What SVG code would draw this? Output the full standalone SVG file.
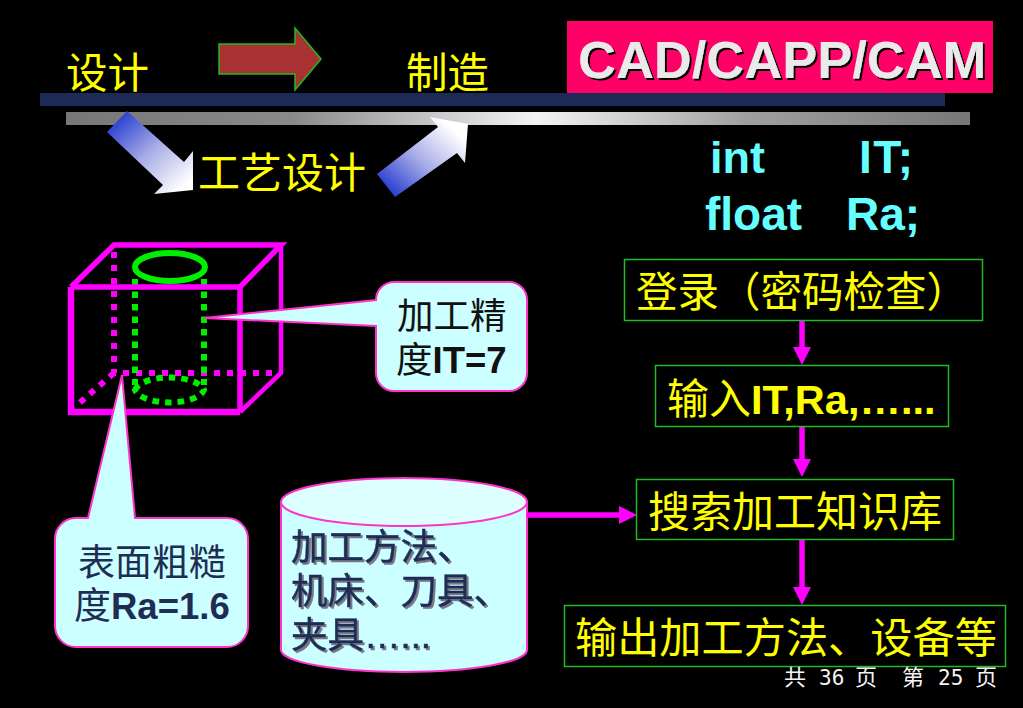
<svg xmlns="http://www.w3.org/2000/svg" width="1023" height="708" viewBox="0 0 1023 708">
<style>
text{font-family:"Liberation Sans","Noto Sans CJK SC",sans-serif}
.y{fill:#ffff00;font-size:41.5px}
.yb{fill:#ffff00;font-weight:bold}
.c{fill:#66ffff;font-size:46px;font-weight:bold}
.box{fill:#000;stroke:#22bb22;stroke-width:1.5}
.cut{fill:#ccffff;stroke:#ff33cc;stroke-width:2}
.mag{fill:none;stroke:#ff00ff;stroke-linejoin:miter}
.magd{fill:none;stroke:#ff00ff;stroke-width:6;stroke-dasharray:6 7}
.grnd{fill:none;stroke:#00ee00;stroke-width:6;stroke-dasharray:6.500 6}
.conn{stroke:#ff00ff;fill:none}
.b{font-weight:bold}
.navy{fill:#1f2d55}
</style>
<defs>
<linearGradient id="gBar" x1="0" x2="1" y1="0" y2="0"><stop offset="0" stop-color="#777"/><stop offset="0.25" stop-color="#8a8a8a"/><stop offset="0.52" stop-color="#f4f4f4"/><stop offset="0.75" stop-color="#a0a0a0"/><stop offset="1" stop-color="#777"/></linearGradient>
<linearGradient id="gA1" gradientUnits="userSpaceOnUse" x1="115" y1="120" x2="180" y2="190"><stop offset="0" stop-color="#2a3fd0"/><stop offset="0.5" stop-color="#a8aee6"/><stop offset="1" stop-color="#ffffff"/></linearGradient>
<linearGradient id="gA2" gradientUnits="userSpaceOnUse" x1="388" y1="190" x2="448" y2="125"><stop offset="0" stop-color="#2a3fd0"/><stop offset="0.5" stop-color="#a8aee6"/><stop offset="1" stop-color="#ffffff"/></linearGradient>
<marker id="head" markerUnits="userSpaceOnUse" markerWidth="18" markerHeight="18" refX="0" refY="8.500" orient="auto" viewBox="0 0 17 17"><path d="M0 0L17 8.500L0 17Z" fill="#ff00ff"/></marker>
<filter id="sh1" x="-5%" y="-10%" width="110%" height="125%"><feDropShadow dx="2" dy="2" stdDeviation="0.6" flood-color="#000"/></filter>
<filter id="sh2" x="-5%" y="-10%" width="110%" height="125%"><feDropShadow dx="2" dy="2" stdDeviation="0.7" flood-color="#778"/></filter>
</defs>
<rect width="1023" height="708" fill="#000"/>

<g id="bars">
<rect x="40" y="93" width="905" height="13" fill="#1c2b56"/>
<rect x="66" y="112" width="904" height="13" fill="url(#gBar)"/>
</g>

<g id="arrow-red"><path d="M219 44H295V28L321 59L295 90V74H219Z" fill="#a83232" stroke="#22bb22" stroke-width="1.500"/></g>
<g id="arrow-down"><path d="M127 111L107 132L163 185L154 194L193 190L193 151L184 162Z" fill="url(#gA1)"/></g>
<g id="arrow-up"><path d="M377 174L395 197L457 153L465 163L468 124L430 117L438 127Z" fill="url(#gA2)"/></g>

<g id="label-design"><text class="y" x="66" y="88">设计</text></g>
<g id="label-make"><text class="y" x="406" y="88">制造</text></g>
<g id="label-process"><text class="y" x="198" y="188" style="font-size:42px">工艺设计</text></g>

<g id="title">
<rect x="567" y="21" width="426" height="72" fill="#ff0066"/>
<text x="578" y="78" font-size="52.500" font-weight="bold" fill="#eaeaea" filter="url(#sh1)">CAD/CAPP/CAM</text>
</g>

<g id="vars">
<text class="c" x="710" y="173" style="font-size:45px">int</text><text class="c" x="859" y="173" letter-spacing="1.500">IT;</text>
<text class="c" x="705" y="230">float</text><text class="c" x="846" y="230">Ra;</text>
</g>

<g id="solid-model">
<path class="magd" d="M114 252V373H272"/>
<path class="magd" d="M114 373L76 406"/>
<path class="grnd" d="M135 279V385M204 279V385"/>
<path class="grnd" d="M135 390A35 15 0 0 1 204 390A35 15 0 0 1 135 390Z"/>
<ellipse cx="170" cy="267" rx="35" ry="14" fill="none" stroke="#00ee00" stroke-width="6"/>
<path class="mag" stroke-width="5.500" d="M71 287L114 245H281L240 287"/>
<path class="mag" stroke-width="4.500" d="M281 245V373L240 412"/>
<path class="mag" stroke-width="5.500" d="M71 287H240V412"/>
<path class="mag" stroke-width="6.500" d="M71 287V412H240"/>
</g>

<g id="callout-accuracy">
<path class="cut" d="M394 282H509A18 18 0 0 1 527 300V373A18 18 0 0 1 509 391H394A18 18 0 0 1 376 373V326L204 318L376 300A18 18 0 0 1 394 282Z"/>
<text x="397" y="329" font-size="36.500" fill="#111">加工精</text>
<text x="396" y="373" font-size="36.500" fill="#111">度<tspan class="b" font-size="36.500">IT=7</tspan></text>
</g>

<g id="callout-roughness">
<path class="cut" d="M88 518L122 375L135 518H227A21 21 0 0 1 248 539V626A21 21 0 0 1 227 647H76A21 21 0 0 1 55 626V539A21 21 0 0 1 76 518Z"/>
<text class="navy" x="78" y="576" font-size="37">表面粗糙</text>
<text class="navy" x="74" y="619" font-size="37">度<tspan class="b" font-size="36.500">Ra=1.6</tspan></text>
</g>

<g id="database">
<path d="M281 502V650A123 22 0 0 0 527 650V502Z" fill="#ccffff" stroke="#ff33cc" stroke-width="2"/>
<ellipse cx="404" cy="502" rx="123" ry="24" fill="#ddffff" stroke="#ff33cc" stroke-width="2"/>
<g class="navy" stroke="#1f2d55" stroke-width="0.500" filter="url(#sh2)">
<text x="291" y="560" font-size="36.500">加工方法、</text>
<text x="291" y="604" font-size="36.500">机床、刀具、</text>
<text x="291" y="648" font-size="36.500">夹具…...</text>
</g>
</g>

<g id="connectors">
<line class="conn" stroke-width="5.500" x1="802" y1="321" x2="802" y2="347" marker-end="url(#head)"/>
<line class="conn" stroke-width="5.500" x1="802" y1="427" x2="802" y2="459" marker-end="url(#head)"/>
<line class="conn" stroke-width="5.500" x1="802" y1="540" x2="802" y2="587" marker-end="url(#head)"/>
<line class="conn" stroke-width="5.500" x1="527" y1="515" x2="619" y2="515" marker-end="url(#head)"/>
</g>

<g id="step-login">
<rect class="box" x="624.500" y="259.500" width="358" height="61"/>
<text class="y" x="636" y="307">登录（密码检查）</text>
</g>
<g id="step-input">
<rect class="box" x="655.500" y="365.500" width="293" height="61"/>
<text class="yb" x="667" y="414" font-size="41.500"><tspan font-weight="normal" font-size="42">输入</tspan>IT,Ra,…...</text>
</g>
<g id="step-search">
<rect class="box" x="636.500" y="479.500" width="317" height="60"/>
<text class="y" x="648" y="527" style="font-size:42px">搜索加工知识库</text>
</g>
<g id="step-output">
<rect class="box" x="564.500" y="605.500" width="441" height="61"/>
<text class="y" x="575" y="653" style="font-size:42.200px">输出加工方法、设备等</text>
</g>

<g id="footer" fill="#f4f4f4" font-size="22">
<text x="784" y="685">共</text>
<text x="819" y="685" style="font-family:'DejaVu Sans Mono','Liberation Mono',monospace" font-size="21">36</text>
<text x="855" y="685">页</text>
<text x="902" y="685">第</text>
<text x="938" y="685" style="font-family:'DejaVu Sans Mono','Liberation Mono',monospace" font-size="21">25</text>
<text x="975" y="685">页</text>
</g>
</svg>
